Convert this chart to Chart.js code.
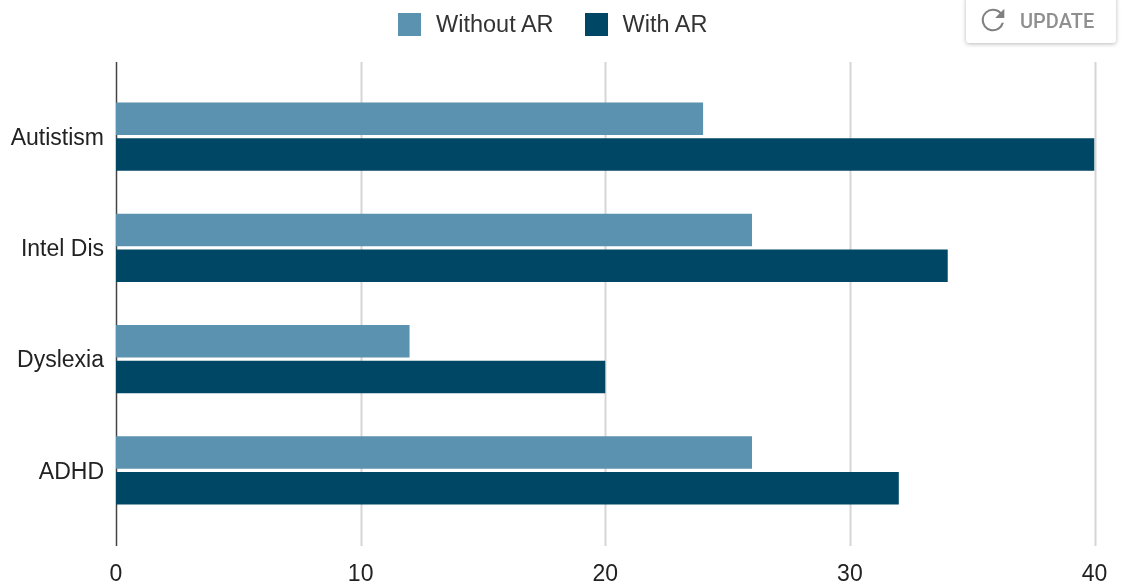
<!DOCTYPE html>
<html>
<head>
<meta charset="utf-8">
<style>
  html, body { margin: 0; padding: 0; background: #fff; }
  #wrap { position: relative; width: 1124px; height: 585px; overflow: hidden; }
  #chart { position: absolute; left: 0; top: 0; }
  #legend {
    position: absolute; left: 398px; top: 13px; height: 23px; display: flex; align-items: center;
    color: #333333; font: 23.5px "Liberation Sans", Arial, sans-serif;
  }
  #legend .item { display: flex; align-items: center; margin-right: 31px; }
  #legend .swatch { width: 23px; height: 23px; margin-right: 15px; }
  #update {
    position: absolute; left: 966px; top: -4px; width: 150px; height: 47px;
    background: #fff; border-radius: 3px; box-shadow: 0 1px 4px rgba(0,0,0,.28);
    display: flex; align-items: center; padding-top: 3px; box-sizing: border-box;
    color: #8f8f8f; font: 500 20px Roboto, sans-serif;
  }
  #update svg { margin: 0 10px 0 10px; transform: translateY(-1px); }
</style>
</head>
<body>
<div id="wrap">
  <canvas id="chart" width="1124" height="585"></canvas>
  <div id="legend"></div>
  <div id="update">
    <svg width="34" height="34" viewBox="0 0 24 24"><path fill="#808080" d="M17.65 6.35A7.96 7.96 0 0 0 12 4a8 8 0 1 0 7.73 10h-1.6A6.5 6.5 0 1 1 12 5.5c1.8 0 3.4.75 4.6 1.9L13.5 10.5H20V4l-2.35 2.35z"/></svg>
    <span>UPDATE</span>
  </div>
</div>
<script src="https://cdn.jsdelivr.net/npm/chart.js@4"></script>
<script>
const categories = ['Autistism', 'Intel Dis', 'Dyslexia', 'ADHD'];
const withoutAr = [24, 26, 12, 26];
const withAr = [40, 34, 20, 32];
const xTicks = [0, 10, 20, 30, 40];

// lines run past the bars' band, so they are drawn by hand from the x scale
const gridLines = {
  id: 'gridLines',
  beforeDatasetsDraw(chart) {
    const { ctx, scales } = chart;
    ctx.save();
    xTicks.forEach((tick) => {
      const x = Math.round(scales.x.getPixelForValue(tick)) + 0.5;
      ctx.beginPath();
      ctx.moveTo(x, 62);
      ctx.lineTo(x, 546);
      ctx.lineWidth = tick === 0 ? 1.5 : 2;
      ctx.strokeStyle = tick === 0 ? '#444444' : '#d6d6d6';
      ctx.stroke();
    });
    ctx.restore();
  },
};

const chart = new Chart(document.getElementById('chart'), {
  type: 'bar',
  data: {
    labels: categories,
    datasets: [
      { label: 'Without AR', data: withoutAr, backgroundColor: '#5b92b0', categoryPercentage: 0.647, barPercentage: 0.903 },
      { label: 'With AR', data: withAr, backgroundColor: '#004665', categoryPercentage: 0.647, barPercentage: 0.903 },
    ],
  },
  options: {
    indexAxis: 'y',
    responsive: false,
    animation: false,
    layout: { padding: { top: 81, right: 29.5, bottom: 0, left: 0 } },
    plugins: {
      tooltip: { enabled: false },
      legend: { display: false },
    },
    scales: {
      x: {
        min: 0, max: 40,
        grid: { display: false },
        border: { display: false },
        afterBuildTicks(scale) { scale.ticks = xTicks.map((value) => ({ value })); },
        afterFit(scale) {
          scale.height = 59;
          scale.paddingLeft = 0;
          scale.paddingRight = 0;
        },
        ticks: { color: '#222222', padding: 27, maxRotation: 0, font: { family: '"Liberation Sans", Arial, sans-serif', size: 23 } },
      },
      y: {
        grid: { display: false },
        border: { display: false },
        afterFit(scale) {
          scale.width = 116;
          scale.paddingTop = 0;
          scale.paddingBottom = 0;
        },
        ticks: { color: '#222222', padding: 4, labelOffset: 2, font: { family: '"Liberation Sans", Arial, sans-serif', size: 23 } },
      },
    },
  },
  plugins: [gridLines],
});

document.getElementById('legend').innerHTML = chart.data.datasets.map((ds) => `
  <div class="item"><span class="swatch" style="background:${ds.backgroundColor}"></span><span>${ds.label}</span></div>
`).join('');
</script>
</body>
</html>
